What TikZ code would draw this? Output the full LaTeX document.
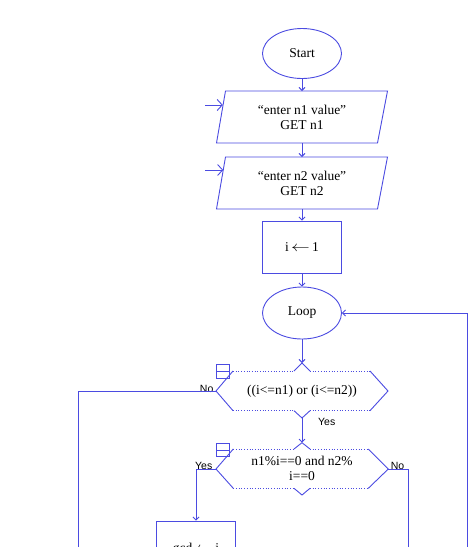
\documentclass[tikz,border=0pt]{standalone}
\usepackage{fontspec}
\setmainfont{Liberation Serif}
\newfontfamily\labelfont{Liberation Sans}
\usetikzlibrary{shapes.geometric,arrows.meta}
\definecolor{fc}{RGB}{75,75,225}
\newcommand{\larr}{\,\scalebox{1.3}[1]{$\leftarrow$}\,}
\begin{document}
\begin{tikzpicture}[x=1pt,y=-1pt,
  flow/.style={draw=fc, line width=0.9pt},
  arr/.style={flow, -{Straight Barb[length=3pt,width=6pt]}},
  inarr/.style={flow, -{Straight Barb[length=5pt,width=11pt]}},
  dots/.style={draw=fc, line width=0.7pt, dotted},
  txt/.style={font=\fontsize{13.5}{15.5}\selectfont, align=center, text=black},
  lab/.style={font=\labelfont\fontsize{10.5}{12}\selectfont, text=black, anchor=base},
  term/.style={ellipse, draw=fc, line width=0.9pt, minimum width=79pt, minimum height=50pt, inner sep=0pt, txt},
  boxst/.style={draw=fc, line width=0.9pt, minimum width=79pt, minimum height=52pt, inner sep=0pt, txt},
  icon/.style={draw=fc, line width=0.8pt}
]
\useasboundingbox (0,0) rectangle (474,547);
\clip (0,0) rectangle (474,547);

% Start
\node[term] (start) at (302,53.5) {Start};

% Input 1
\draw[flow] (225.5,91) -- (387.5,91) -- (377.5,143) -- (216.5,143) -- cycle;
\node[txt] (p1) at (302,117.5) {``enter n1 value''\\GET n1};
\coordinate (p1top) at (302,91);
\coordinate (p1bot) at (302,143);
\coordinate (in1) at (205,105);
\coordinate (p1in) at (222.8,105);

% Input 2
\draw[flow] (225.5,157) -- (387.5,157) -- (377.5,209) -- (216.5,209) -- cycle;
\node[txt] (p2) at (302,183.5) {``enter n2 value''\\GET n2};
\coordinate (p2top) at (302,157);
\coordinate (p2bot) at (302,209);
\coordinate (in2) at (205,170);
\coordinate (p2in) at (223.2,170);

% Init
\node[boxst] (init) at (302,247) {i\larr 1};

% Loop
\node[term, minimum height=52pt] (loop) at (302,313) {Loop};

% Decision 1
\coordinate (d1top) at (302,363);
\coordinate (d1bot) at (302,418);
\coordinate (d1left) at (216,391);
\coordinate (d1right) at (388,391);
\draw[flow] (233,371) -- (d1left) -- (233,410.7);
\draw[flow] (370,371) -- (d1right) -- (370,410.7);
\draw[dots] (233,371) -- (294,371) (310,371) -- (370,371);
\draw[dots] (233,410.7) -- (294,410.7) (310,410.7) -- (370,410.7);
\draw[flow] (294,371) -- (d1top) -- (310,371);
\draw[flow] (294,410.7) -- (d1bot) -- (310,410.7);
\node[txt] (d1) at (302,391.5) {((i<=n1) or (i<=n2))};
\draw[icon] (216.5,364.5) rectangle (229.5,378);
\draw[icon] (216.5,371.2) -- (229.5,371.2);
\node[lab] (no1) at (206.7,392) {No};
\node[lab] (yes1) at (326.7,425) {Yes};

% Decision 2
\coordinate (d2top) at (302,442.7);
\coordinate (d2bot) at (302,495);
\coordinate (d2left) at (216,469);
\coordinate (d2right) at (388.3,469);
\draw[flow] (233.3,449) -- (d2left) -- (233.3,488.3);
\draw[flow] (368.3,449) -- (d2right) -- (368.3,488.3);
\draw[dots] (233.3,449) -- (294,449) (310,449) -- (368.3,449);
\draw[dots] (233.3,488.3) -- (294,488.3) (310,488.3) -- (368.3,488.3);
\draw[flow] (294,449) -- (d2top) -- (310,449);
\draw[flow] (294,488.3) -- (d2bot) -- (310,488.3);
\node[txt, font=\fontsize{13.5}{14.5}\selectfont] (d2) at (302,468.5) {n1\%i==0 and n2\%\\i==0};
\draw[icon] (216.5,443.3) rectangle (229.5,456.5);
\draw[icon] (216.5,449.9) -- (229.5,449.9);
\node[lab] (yes2) at (203.7,469) {Yes};
\node[lab] (no2) at (397.5,469) {No};

% gcd box (cut off at the bottom edge, as in the reference)
\node[boxst] (gcd) at (196,547) {};
\node[txt] (gcdtext) at (196,549.5) {gcd\larr i};

% loose ends
\coordinate (back) at (467,570);
\coordinate (no1end) at (78.3,570);
\coordinate (no2end) at (408.3,570);

% connectors
\draw[arr] (start.south) -- (p1top);
\draw[inarr] (in1) -- (p1in);
\draw[arr] (p1bot) -- (p2top);
\draw[inarr] (in2) -- (p2in);
\draw[arr] (p2bot) -- (init.north);
\draw[arr] (init.south) -- (loop.north);
\draw[arr] (loop.south) -- (d1top);
\draw[arr] (d1bot) -- (d2top);
\draw[arr] (back) |- (loop.east);
\draw[flow] (d1left) -| (no1end);
\draw[arr] (d2left) -| (gcd.north);
\draw[flow] (d2right) -| (no2end);
\end{tikzpicture}
\end{document}
